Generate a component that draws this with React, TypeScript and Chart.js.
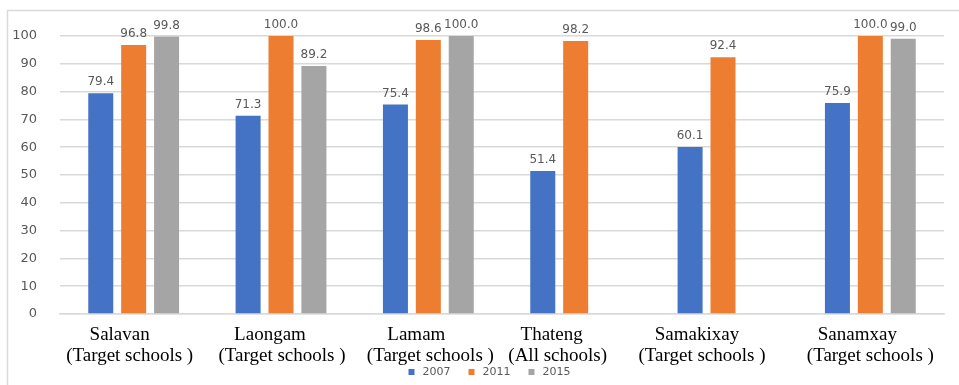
import React, { useEffect, useRef } from "react";
import { Chart, registerables } from "chart.js";

Chart.register(...registerables);

const categoryNames = ["Salavan", "Laongam", "Lamam", "Thateng", "Samakixay", "Sanamxay"];
const categoryNotes = [
  "(Target schools )",
  "(Target schools )",
  "(Target schools )",
  "(All schools)",
  "(Target schools )",
  "(Target schools )",
];
const years = ["2007", "2011", "2015"];
const values2007 = [79.4, 71.3, 75.4, 51.4, 60.1, 75.9];
const values2011 = [96.8, 100.0, 98.6, 98.2, 92.4, 100.0];
const values2015: (number | null)[] = [99.8, 89.2, 100.0, null, null, 99.0];
const yTicks = [0, 10, 20, 30, 40, 50, 60, 70, 80, 90, 100];
const colors = ["#4472C4", "#ED7D31", "#A5A5A5"];

// layout-only: horizontal nudges of the two category label lines (px)
const nameShift = [-14, -11, -12, -24, -26, -13];
const noteShift = [-4, 1, 2, -18, -21, 0];

const dataLabelPlugin = {
  id: "dataLabels",
  afterDatasetsDraw(chart: any) {
    const ctx = chart.ctx;
    ctx.save();
    ctx.font = "12px 'DejaVu Sans', sans-serif";
    ctx.fillStyle = "#595959";
    ctx.textAlign = "center";
    ctx.textBaseline = "bottom";
    chart.data.datasets.forEach((ds: any, di: number) => {
      const meta = chart.getDatasetMeta(di);
      meta.data.forEach((bar: any, i: number) => {
        const v = ds.data[i];
        if (v === null || v === undefined) return;
        ctx.fillText(v.toFixed(1), bar.x, bar.y - 5);
      });
    });
    ctx.restore();
  },
};

const categoryLabelPlugin = {
  id: "categoryLabels",
  afterDraw(chart: any) {
    const ctx = chart.ctx;
    const x = chart.scales.x;
    const base = chart.chartArea.bottom;
    ctx.save();
    ctx.font = "19px 'Liberation Serif', 'Times New Roman', serif";
    ctx.fillStyle = "#000000";
    ctx.textAlign = "center";
    ctx.textBaseline = "middle";
    categoryNames.forEach((name, i) => {
      const cx = x.getPixelForValue(i);
      ctx.fillText(name, cx + nameShift[i], base + 21);
      ctx.fillText(categoryNotes[i], cx + noteShift[i], base + 42);
    });
    ctx.restore();
  },
};

const legendPlugin = {
  id: "customLegend",
  afterDraw(chart: any) {
    const ctx = chart.ctx;
    const y = chart.height - 13;
    const step = 60;
    const start = chart.width / 2 - 71;
    ctx.save();
    ctx.font = "11px 'DejaVu Sans', sans-serif";
    ctx.textAlign = "left";
    ctx.textBaseline = "middle";
    chart.data.datasets.forEach((ds: any, i: number) => {
      const bx = start + i * step;
      ctx.fillStyle = ds.backgroundColor;
      ctx.fillRect(bx, y - 3, 6, 6);
      ctx.fillStyle = "#595959";
      ctx.fillText(ds.label, bx + 14, y);
    });
    ctx.restore();
  },
};

const framePlugin = {
  id: "frame",
  beforeDraw(chart: any) {
    const ctx = chart.ctx;
    ctx.save();
    ctx.fillStyle = "#ffffff";
    ctx.fillRect(0, 0, chart.width, chart.height);
    ctx.strokeStyle = "#D9D9D9";
    ctx.lineWidth = 1.5;
    ctx.strokeRect(7.5, 10.5, chart.width + 20, chart.height + 20);
    ctx.restore();
  },
};

export default function App() {
  const ref = useRef<HTMLCanvasElement>(null);
  useEffect(() => {
    document.body.style.margin = "0";
    const chart = new Chart(ref.current!, {
      type: "bar",
      data: {
        labels: categoryNames,
        datasets: [
          { label: years[0], data: values2007, backgroundColor: colors[0] },
          { label: years[1], data: values2011, backgroundColor: colors[1] },
          { label: years[2], data: values2015, backgroundColor: colors[2] },
        ],
      },
      options: {
        animation: false,
        responsive: false,
        layout: { padding: { left: 0, right: 15, top: 36, bottom: 20 } },
        datasets: {
          bar: { categoryPercentage: 0.67, barPercentage: 0.76 },
        } as any,
        scales: {
          x: {
            grid: { display: false },
            border: { display: true, color: "#D9D9D9", width: 1.5 },
            ticks: { display: false },
            afterFit(scale: any) {
              scale.height = 51;
            },
          },
          y: {
            min: 0,
            max: 100,
            afterBuildTicks(scale: any) {
              scale.ticks = yTicks.map((v) => ({ value: v }));
            },
            grid: { color: "#D9D9D9", lineWidth: 1.5, drawTicks: false },
            border: { display: false },
            ticks: {
              color: "#595959",
              font: { family: "'DejaVu Sans', sans-serif", size: 13 },
              padding: 23,
            },
            afterFit(scale: any) {
              scale.width = 60;
            },
          },
        },
        plugins: {
          legend: { display: false },
          tooltip: { enabled: false },
        },
      },
      plugins: [dataLabelPlugin, categoryLabelPlugin, legendPlugin, framePlugin],
    } as any);
    return () => chart.destroy();
  }, []);
  return (
    <div style={{ width: 959, height: 385 }}>
      <canvas ref={ref} width={959} height={385} />
    </div>
  );
}
